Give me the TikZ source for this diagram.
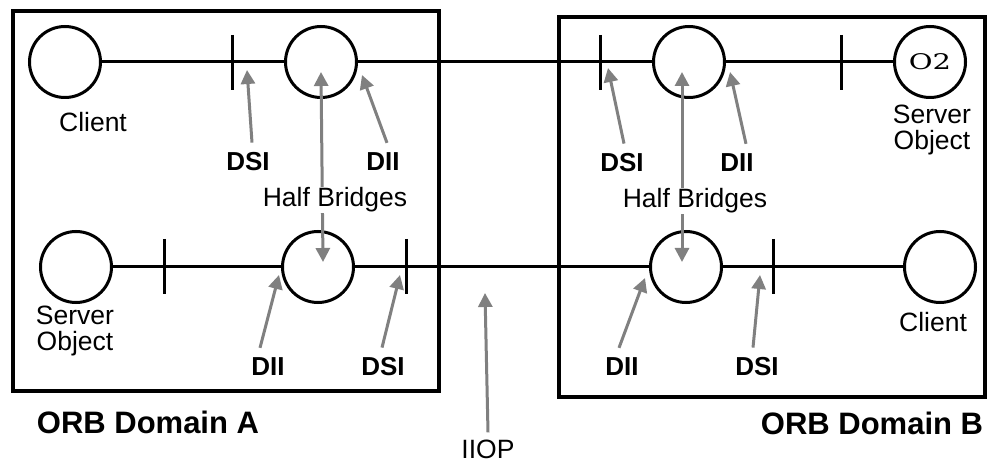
\documentclass[tikz,border=0pt]{standalone}
\usepackage{fontspec}
\setmainfont{Liberation Sans}
\newfontfamily\oggettofont[FakeStretch=1.35]{DejaVu Serif}
\usetikzlibrary{positioning,arrows.meta}
\definecolor{arrowgray}{gray}{0.5}

\begin{document}
\begin{tikzpicture}[
    x=1pt, y=-1pt,
    >={Triangle[length=14pt,width=14pt]},
    obj/.style={circle, draw, line width=3pt, minimum size=71pt, inner sep=0pt},
    wire/.style={line width=3pt},
    frame/.style={line width=3.5pt},
    pointer/.style={->, draw=arrowgray, line width=3pt},
    lbl/.style={font=\fontsize{26.5}{26.5}\selectfont, align=center, inner sep=2pt},
    tag/.style={font=\bfseries\fontsize{26}{27}\selectfont, inner sep=10pt},
    orblbl/.style={font=\bfseries\fontsize{31}{33}\selectfont}
]
  \useasboundingbox (0,0) rectangle (988,462);

  % domini ORB
  \draw[frame] (13,11) rectangle (439,391);
  \draw[frame] (559,17) rectangle (985,397);

  % oggetti e half bridge
  \node[obj] (cliA) at (65,62) {};
  \node[obj] (brA1) at (321,62) {};
  \node[obj] (brB1) at (689,62) {};
  \node[obj] (o2) at (930,62) {\oggettofont\fontsize{21.5}{21.5}\selectfont O2};
  \node[obj] (srvA) at (76,267) {};
  \node[obj] (brA2) at (318,267) {};
  \node[obj] (brB2) at (686,267) {};
  \node[obj] (cliB) at (940,267) {};

  % collegamenti
  \draw[wire] (cliA) -- (brA1) -- (brB1) -- (o2);
  \draw[wire] (srvA) -- (brA2) -- (brB2) -- (cliB);

  % trattini delle interfacce
  \coordinate (iA1) at (232,62);
  \coordinate (iB1) at (600,62);
  \coordinate (iB2) at (841,62);
  \coordinate (iA3) at (164,267);
  \coordinate (iA4) at (406,267);
  \coordinate (iB4) at (773,267);
  \draw[wire] ([yshift=27pt]iA1) -- ([yshift=-28pt]iA1);
  \draw[wire] ([yshift=27pt]iB1) -- ([yshift=-28pt]iB1);
  \draw[wire] ([yshift=27pt]iB2) -- ([yshift=-28pt]iB2);
  \draw[wire] ([yshift=28pt]iA3) -- ([yshift=-27pt]iA3);
  \draw[wire] ([yshift=28pt]iA4) -- ([yshift=-27pt]iA4);
  \draw[wire] ([yshift=28pt]iB4) -- ([yshift=-27pt]iB4);

  % nomi degli oggetti
  \node[lbl] (lcliA) at (93,122) {Client};
  \node[lbl] (lsrvA) at (75,331) {Server\\Object};
  \node[lbl] (lsrvB) at (932,130) {Server\\Object};
  \node[lbl] (lcliB) at (933,322) {Client};

  % DSI / DII
  \node[tag] (dsiA1) at (248,162) {DSI};
  \node[tag] (diiA1) at (383,162) {DII};
  \node[tag] (diiA2) at (268,367) {DII};
  \node[tag] (dsiA2) at (383,367) {DSI};
  \node[tag] (dsiB1) at (622,163) {DSI};
  \node[tag] (diiB1) at (737,163) {DII};
  \node[tag] (diiB2) at (622,367) {DII};
  \node[tag] (dsiB2) at (757,367) {DSI};

  \coordinate (tdsiA1) at (247,70);
  \coordinate (tdiiA1) at (362,75);
  \coordinate (tdiiA2) at (279,275);
  \coordinate (tdsiA2) at (400,275);
  \coordinate (tdsiB1) at (608,68);
  \coordinate (tdiiB1) at (730,72);
  \coordinate (tdiiB2) at (645,278);
  \coordinate (tdsiB2) at (760,275);

  \draw[pointer] ([xshift=4pt]dsiA1.north) -- (tdsiA1);
  \draw[pointer] ([xshift=4pt]diiA1.north) -- (tdiiA1);
  \draw[pointer] ([xshift=-8pt]diiA2.north) -- (tdiiA2);
  \draw[pointer] ([xshift=-1pt]dsiA2.north) -- (tdsiA2);
  \draw[pointer] ([xshift=2pt]dsiB1.north) -- (tdsiB1);
  \draw[pointer] ([xshift=9pt]diiB1.north) -- (tdiiB1);
  \draw[pointer] ([xshift=-3pt]diiB2.north) -- (tdiiB2);
  \draw[pointer] ([xshift=-4pt]dsiB2.north) -- (tdsiB2);

  % half bridges
  \coordinate (hA1) at (321,72);
  \coordinate (hA2) at (323,262);
  \coordinate (hB1) at (682,72);
  \coordinate (hB2) at (682,262);
  \draw[pointer, <->] (hA1) -- (hA2);
  \draw[pointer, <->] (hB1) -- (hB2);
  \node[lbl, fill=white, inner sep=1pt] (hbA) at (335,200) {Half Bridges};
  \node[lbl, fill=white, inner sep=1pt] (hbB) at (695,201) {Half Bridges};

  % IIOP
  \node[lbl, inner sep=1pt] (iiop) at (488,449) {IIOP};
  \coordinate (tiiop) at (485,293);
  \draw[pointer] ([yshift=6pt]iiop.north) -- (tiiop);

  % etichette dei domini
  \node[orblbl] (domA) at (148,422) {ORB Domain A};
  \node[orblbl] (domB) at (872,423) {ORB Domain B};

\end{tikzpicture}
\end{document}
